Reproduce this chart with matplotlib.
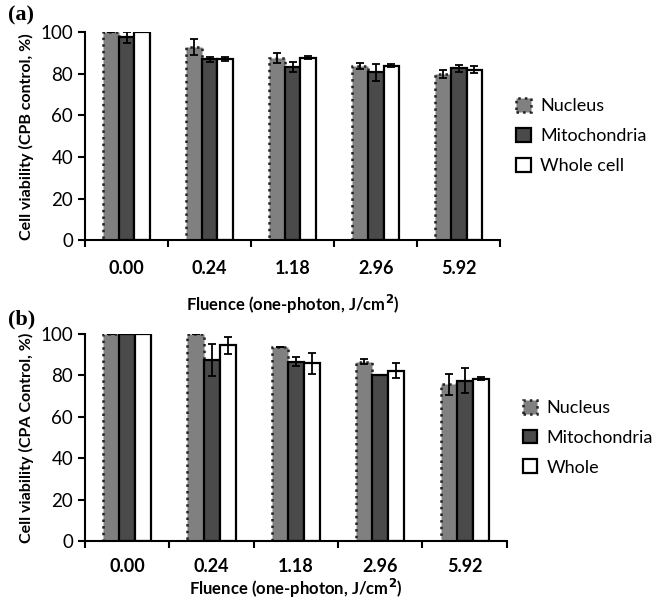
import numpy as np
import matplotlib.pyplot as plt
from matplotlib.patches import Patch

fluence = ["0.00", "0.24", "1.18", "2.96", "5.92"]

# painel (a) - controle CPB
nucleo_a = [100, 93, 87.5, 83.6, 80]
nucleo_a_err = [0, 3.8, 2.5, 1.5, 2]
mito_a = [97.4, 87, 83.3, 80.6, 82.6]
mito_a_err = [2.5, 1.2, 2.5, 4, 1.8]
celula_a = [100, 87, 87.7, 83.8, 82]
celula_a_err = [0, 0.8, 0.6, 0.7, 1.8]

# painel (b) - controle CPA
nucleo_b = [100, 100, 93.8, 86.7, 75.8]
nucleo_b_err = [0, 0, 0, 1, 5]
mito_b = [100, 87.5, 86.7, 80, 77.4]
mito_b_err = [0, 7.8, 2, 0, 6]
celula_b = [100, 94.5, 85.9, 82.3, 78.5]
celula_b_err = [0, 4.2, 5, 3.7, 0.6]

cor_nucleo = '#808080'
cor_mito = '#4a4a4a'
fonte = ['Lato', 'DejaVu Sans']
plt.rcParams['font.family'] = fonte

fig = plt.figure(figsize=(6.59, 6.05), dpi=100)
ax_a = fig.add_axes([0.129, 0.603, 0.630, 0.344])
ax_b = fig.add_axes([0.129, 0.105, 0.640, 0.343])

larg = 0.19
x = np.arange(len(fluence))
err_kw = dict(ecolor='black', capsize=3, elinewidth=1.3, capthick=1.3)


def desenha(ax, nuc, nuc_e, mit, mit_e, cel, cel_e, ylabel, nome_cel):
    ax.bar(x - larg, nuc, larg, yerr=nuc_e, color=cor_nucleo, edgecolor='#222222',
           linewidth=1.8, linestyle=':', error_kw=err_kw, zorder=2)
    ax.bar(x, mit, larg, yerr=mit_e, color=cor_mito, edgecolor='black',
           linewidth=1.6, error_kw=err_kw, zorder=2)
    ax.bar(x + larg, cel, larg, yerr=cel_e, color='white', edgecolor='black',
           linewidth=1.6, error_kw=err_kw, zorder=2)
    ax.set_xlim(-0.5, len(fluence) - 0.5)
    ax.set_ylim(0, 100)
    ax.set_yticks(np.arange(0, 101, 20))
    ax.set_xticks(x)
    ax.set_xticklabels(fluence, fontweight='bold', fontsize=13)
    ax.set_xticks(np.arange(-0.5, len(fluence)), minor=True)
    ax.tick_params(axis='x', which='major', length=0, pad=14)
    ax.tick_params(axis='x', which='minor', length=5, width=1.5, direction='out')
    ax.tick_params(axis='y', length=5, width=1.5, labelsize=13.5)
    for s in ['top', 'right']:
        ax.spines[s].set_visible(False)
    for s in ['left', 'bottom']:
        ax.spines[s].set_linewidth(1.5)
    ax.set_ylabel(ylabel, fontweight='bold', fontsize=11.5, labelpad=5)
    ax.set_xlabel('Fluence (one-photon, J/cm$^\\mathbf{2}$)', fontweight='bold',
                  fontsize=12, labelpad=12)
    handles = [
        Patch(facecolor=cor_nucleo, edgecolor='#222222', linestyle=':', linewidth=1.8),
        Patch(facecolor=cor_mito, edgecolor='black', linewidth=1.6),
        Patch(facecolor='white', edgecolor='black', linewidth=1.6),
    ]
    ax.legend(handles, ['Nucleus', 'Mitochondria', nome_cel], loc='center left',
              bbox_to_anchor=(1.0, 0.5), frameon=False, fontsize=13,
              handlelength=0.8, handleheight=0.8, handletextpad=0.5,
              labelspacing=0.75)


desenha(ax_a, nucleo_a, nucleo_a_err, mito_a, mito_a_err, celula_a, celula_a_err,
        'Cell viability (CPB control, %)', 'Whole cell')
desenha(ax_b, nucleo_b, nucleo_b_err, mito_b, mito_b_err, celula_b, celula_b_err,
        'Cell viability (CPA Control, %)', 'Whole')
ax_b.tick_params(axis='x', which='major', pad=12)
ax_b.xaxis.labelpad = 1

fig.text(0.012, 0.975, '(a)', fontsize=16, fontweight='bold',
         family='Liberation Serif', va='center', ha='left')
fig.text(0.012, 0.472, '(b)', fontsize=16, fontweight='bold',
         family='Liberation Serif', va='center', ha='left')

fig.savefig('out.png', dpi=100)
